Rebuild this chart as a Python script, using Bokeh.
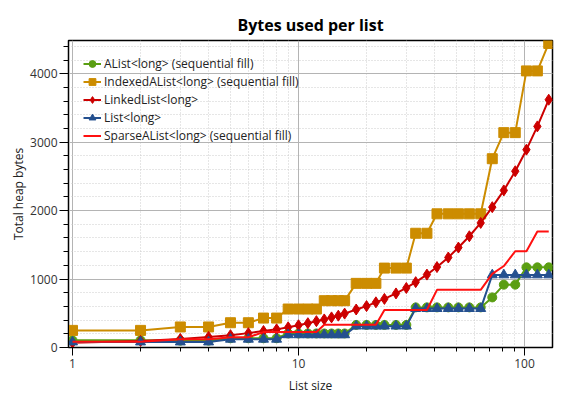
from bokeh.plotting import figure
from bokeh.models import Range1d, FixedTicker, SingleIntervalTicker, NumeralTickFormatter
from bokeh.embed import file_html
from bokeh.resources import INLINE

# ---- data ----
list_size = [1, 2, 3, 4, 5, 6, 7, 8, 9, 10, 11, 12, 13, 14, 15, 16, 18, 20, 22, 24,
             27, 30, 33, 37, 41, 46, 51, 57, 64, 72, 81, 91, 102, 114, 128]

alist = [105, 105, 100, 100, 135, 135, 135, 135, 205, 205, 205, 205, 205, 205, 205, 205,
         330, 330, 330, 330, 330, 330, 586, 586, 586, 586, 586, 586, 586, 732, 918, 918,
         1171, 1171, 1171]

indexed_alist = [250, 250, 300, 300, 362, 362, 430, 430, 562, 562, 562, 562, 684, 684, 684, 684,
                 937, 937, 937, 1160, 1160, 1160, 1669, 1669, 1953, 1953, 1953, 1953, 1953,
                 2758, 3139, 3139, 4041, 4041, 4442]

linked_list = [70, 95, 125, 155, 180, 210, 240, 265, 295, 325, 355, 385, 410, 440, 465, 495,
               555, 605, 660, 710, 790, 870, 955, 1065, 1175, 1315, 1460, 1625, 1820, 2050,
               2295, 2575, 2890, 3230, 3620]

list_long = [80, 80, 80, 80, 120, 120, 120, 120, 185, 185, 185, 185, 185, 185, 185, 185,
             312, 312, 312, 312, 312, 312, 568, 568, 568, 568, 568, 568, 568, 1060, 1060, 1060,
             1060, 1060, 1060]

sparse_alist = [85, 85, 120, 120, 150, 150, 225, 225, 225, 225, 225, 225, 332, 332, 332, 332,
                332, 332, 332, 547, 547, 547, 547, 547, 842, 842, 842, 842, 842, 1075, 1190,
                1406, 1406, 1694, 1694]

x_major_ticks = [1, 10, 100]
x_minor_ticks = [2, 3, 4, 5, 6, 7, 8, 9, 20, 30, 40, 50, 60, 70, 80, 90]

FONT = "Open Sans"

p = figure(width=569, height=403, x_axis_type="log",
           x_range=Range1d(0.96, 133), y_range=Range1d(0, 4485),
           output_backend="svg", toolbar_location=None,
           min_border_left=68, min_border_right=17, min_border_top=40, min_border_bottom=56)

p.title.text = "Bytes used per list"
p.title.align = "center"
p.title.text_font = FONT
p.title.text_font_size = "16px"
p.title.text_font_style = "bold"
p.title.text_color = "#000000"

p.outline_line_color = "#000000"
p.outline_line_width = 1.5

# axes
p.xaxis.ticker = FixedTicker(ticks=x_major_ticks, minor_ticks=x_minor_ticks)
p.xaxis.formatter = NumeralTickFormatter(format="0")
p.yaxis.ticker = SingleIntervalTicker(interval=1000, num_minor_ticks=5)
p.xaxis.axis_label = "List size"
p.yaxis.axis_label = "Total heap bytes"
for ax in (p.xaxis, p.yaxis):
    ax.axis_label_text_font = FONT
    ax.axis_label_text_font_size = "12px"
    ax.axis_label_text_font_style = "normal"
    ax.axis_label_text_color = "#222222"
    ax.major_label_text_font = FONT
    ax.major_label_text_font_size = "12px"
    ax.major_label_text_color = "#333333"
    ax.axis_line_color = "#000000"
    ax.major_tick_line_color = "#000000"
    ax.minor_tick_line_color = "#000000"
    ax.major_tick_in = 0
    ax.minor_tick_in = 0
p.xaxis.major_tick_out = 8
p.xaxis.minor_tick_out = 4
p.yaxis.major_tick_out = 9
p.yaxis.minor_tick_out = 5
p.xaxis.major_label_standoff = 3
p.yaxis.major_label_standoff = 2
p.xaxis.axis_label_standoff = 6
p.yaxis.axis_label_standoff = 0

# grids
p.xgrid.ticker = FixedTicker(ticks=x_major_ticks, minor_ticks=x_minor_ticks)
for g in (p.xgrid, p.ygrid):
    g.grid_line_color = "#b4b4b4"
    g.grid_line_width = 1
    g.minor_grid_line_color = "#cccccc"
    g.minor_grid_line_dash = "1 2"
    g.minor_grid_line_width = 1

# series
c_alist = "#5a9e12"
c_idx = "#cc8c00"
c_linked = "#cc0000"
c_list = "#24508f"
c_sparse = "#ff1010"

p.line(list_size, alist, line_color=c_alist, line_width=2, legend_label="AList<long> (sequential fill)")
p.scatter(list_size, alist, marker="circle", size=9, fill_color=c_alist, line_color=c_alist,
          legend_label="AList<long> (sequential fill)")

p.line(list_size, indexed_alist, line_color=c_idx, line_width=2, legend_label="IndexedAList<long> (sequential fill)")
p.scatter(list_size, indexed_alist, marker="square", size=10, fill_color=c_idx, line_color=c_idx,
          legend_label="IndexedAList<long> (sequential fill)")

p.line(list_size, linked_list, line_color=c_linked, line_width=2, legend_label="LinkedList<long>")
p.scatter(list_size, linked_list, marker="diamond", size=11, fill_color=c_linked, line_color=c_linked,
          legend_label="LinkedList<long>")

p.line(list_size, list_long, line_color=c_list, line_width=2, legend_label="List<long>")
p.scatter(list_size, list_long, marker="triangle", size=10, fill_color=c_list, line_color=c_list,
          legend_label="List<long>")

p.line(list_size, sparse_alist, line_color=c_sparse, line_width=2, legend_label="SparseAList<long> (sequential fill)")

leg = p.legend[0]
leg.location = "top_left"
leg.background_fill_alpha = 0
leg.border_line_alpha = 0
leg.label_text_font = FONT
leg.label_text_font_size = "12px"
leg.label_text_color = "#222222"
leg.glyph_width = 18
leg.glyph_height = 17
leg.label_height = 17
leg.spacing = 1
leg.label_standoff = 3
leg.margin = 6
leg.padding = 9

open("out.html", "w").write(file_html(p, INLINE))
